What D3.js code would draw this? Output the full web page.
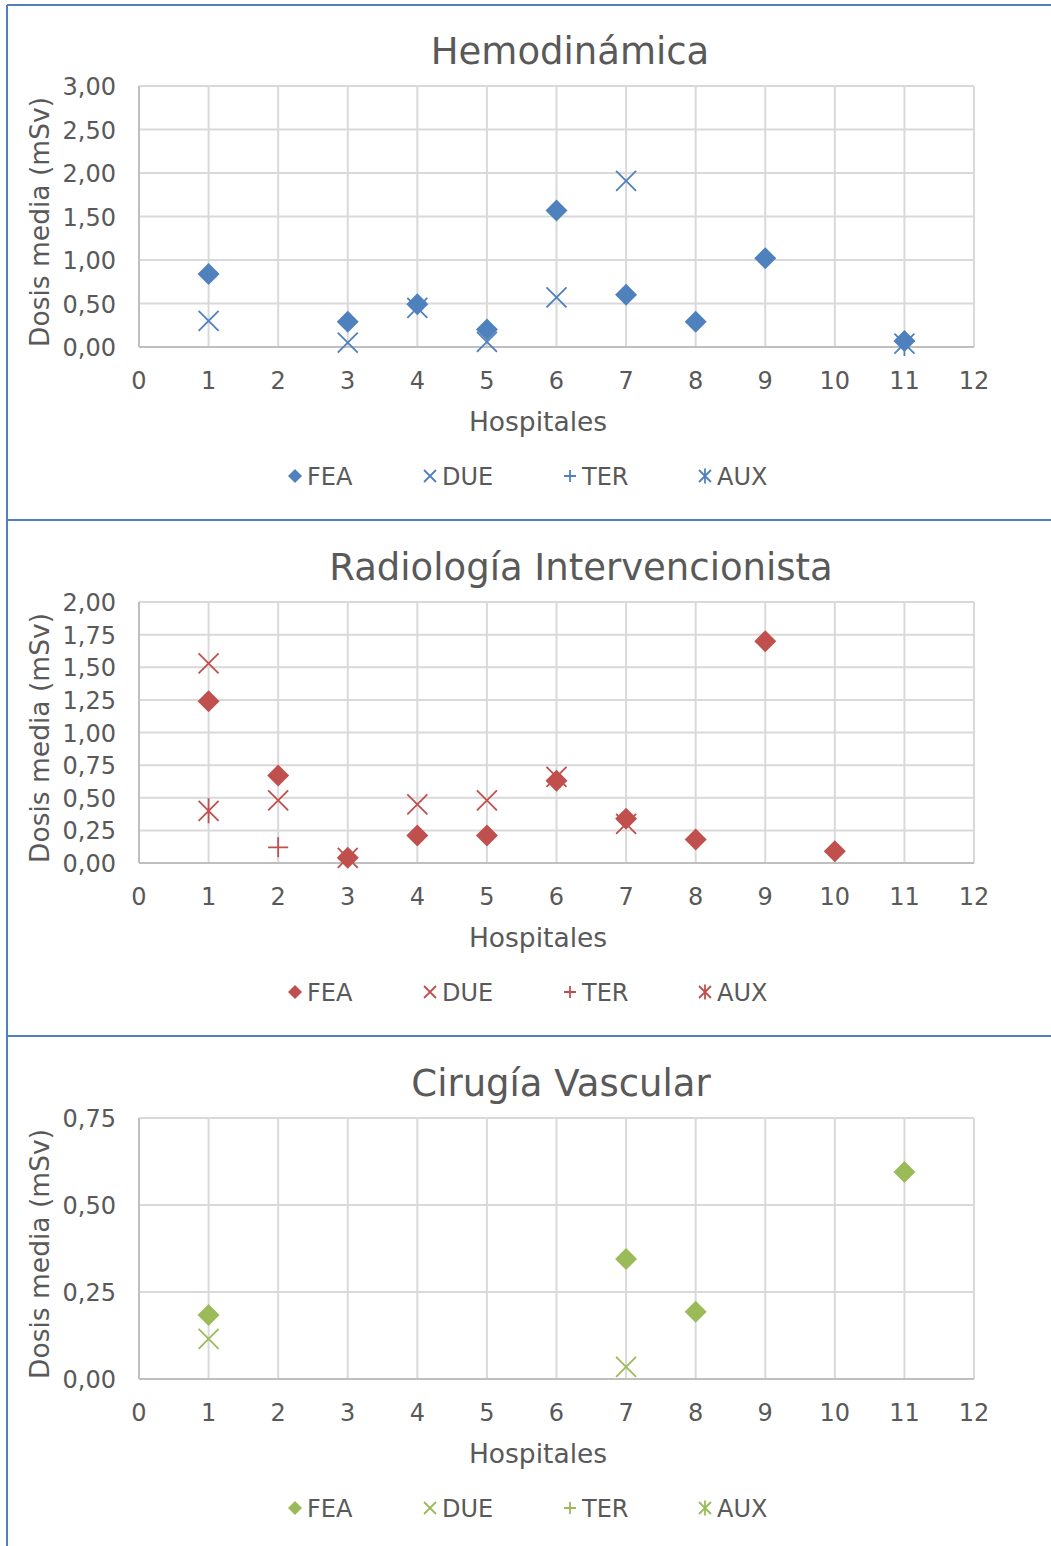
<!DOCTYPE html>
<meta charset="utf-8">
<style>
body { margin: 0; background: #fff; }
text { font-family: "DejaVu Sans", Verdana, sans-serif; fill: #595959; }
.grid line { stroke: #d9d9d9; stroke-width: 2px; }
</style>
<body>
<script src="https://d3js.org/d3.v7.min.js"></script>
<script>

// hospitals 1..12, null = no data
var hospitals = [1, 2, 3, 4, 5, 6, 7, 8, 9, 10, 11, 12];
var seriesNames = ["FEA", "DUE", "TER", "AUX"];

var hemoFEA = [0.84, null, 0.29, 0.49, 0.20, 1.57, 0.60, 0.29, 1.02, null, 0.07, null];
var hemoDUE = [0.30, null, 0.05, 0.45, 0.06, 0.57, 1.91, null, null, null, null, null];
var hemoTER = [null, null, null, null, null, null, null, null, null, null, null, null];
var hemoAUX = [null, null, null, null, null, null, null, null, null, null, 0.04, null];

var radFEA = [1.24, 0.67, 0.04, 0.21, 0.21, 0.63, 0.34, 0.18, 1.70, 0.09, null, null];
var radDUE = [1.53, 0.48, 0.04, 0.45, 0.48, 0.66, 0.30, null, null, null, null, null];
var radTER = [null, 0.12, null, null, null, null, null, null, null, null, null, null];
var radAUX = [0.40, null, null, null, null, null, null, null, null, null, null, null];

var vascFEA = [0.184, null, null, null, null, null, 0.345, 0.193, null, null, 0.595, null];
var vascDUE = [0.115, null, null, null, null, null, 0.035, null, null, null, null, null];
var vascTER = [null, null, null, null, null, null, null, null, null, null, null, null];
var vascAUX = [null, null, null, null, null, null, null, null, null, null, null, null];

var hemoTicks = [0, 0.5, 1, 1.5, 2, 2.5, 3];
var radTicks = [0, 0.25, 0.5, 0.75, 1, 1.25, 1.5, 1.75, 2];
var vascTicks = [0, 0.25, 0.5, 0.75];

var panels = [
  {title: "Hemodinámica", titleX: 570, color: "#4f81bd", ticks: hemoTicks, max: 3,
   series: [hemoFEA, hemoDUE, hemoTER, hemoAUX]},
  {title: "Radiología Intervencionista", titleX: 581, color: "#c0504d", ticks: radTicks, max: 2,
   series: [radFEA, radDUE, radTER, radAUX]},
  {title: "Cirugía Vascular", titleX: 561, color: "#9bbb59", ticks: vascTicks, max: 0.75,
   series: [vascFEA, vascDUE, vascTER, vascAUX]}
];

var W = 1051, H = 1546, panelH = 516;
var svg = d3.select("body").append("svg")
    .attr("width", W)
    .attr("height", H);

var fmt = function(v) { return d3.format(".2f")(v).replace(".", ","); };

// marker shapes, path centred on 0,0
function marker(kind, s) {
  if (kind == 0) return "M0," + (-s) + "L" + s + ",0L0," + s + "L" + (-s) + ",0Z";
  if (kind == 1) return "M" + (-s) + "," + (-s) + "L" + s + "," + s + "M" + (-s) + "," + s + "L" + s + "," + (-s);
  if (kind == 2) return "M" + (-s) + ",0L" + s + ",0M0," + (-s) + "L0," + s;
  return "M" + (-s) + "," + (-s) + "L" + s + "," + s + "M" + (-s) + "," + s + "L" + s + "," + (-s) +
         "M0," + (-s * 1.25) + "L0," + (s * 1.25);
}

var left = 139, right = 974, top0 = 86, bottom0 = 347;

panels.forEach(function(p, i) {
  var g = svg.append("g").attr("transform", "translate(0," + (i * panelH) + ")");

  var x = d3.scaleLinear().domain([0, 12]).range([left, right]);
  var y = d3.scaleLinear().domain([0, p.max]).range([bottom0, top0]);

  // gridlines
  var grid = g.append("g").attr("class", "grid");
  grid.selectAll(".gx").data(d3.range(1, 13))
    .enter().append("line")
      .attr("x1", function(d) { return x(d); })
      .attr("x2", function(d) { return x(d); })
      .attr("y1", y(0)).attr("y2", y(p.max));
  grid.selectAll(".gy").data(p.ticks.slice(1))
    .enter().append("line")
      .attr("x1", x(0)).attr("x2", x(12))
      .attr("y1", function(d) { return y(d); })
      .attr("y2", function(d) { return y(d); });

  // axis lines
  g.append("line").attr("x1", x(0)).attr("x2", x(0)).attr("y1", y(0)).attr("y2", y(p.max))
    .style("stroke", "#bfbfbf").style("stroke-width", 2);
  g.append("line").attr("x1", x(0)).attr("x2", x(12)).attr("y1", y(0)).attr("y2", y(0))
    .style("stroke", "#bfbfbf").style("stroke-width", 2);

  // tick labels
  g.selectAll(".yl").data(p.ticks)
    .enter().append("text")
      .attr("x", 116)
      .attr("y", function(d) { return y(d) + 9; })
      .attr("text-anchor", "end")
      .style("font-size", "24px")
      .text(fmt);
  g.selectAll(".xl").data(d3.range(0, 13))
    .enter().append("text")
      .attr("x", function(d) { return x(d); })
      .attr("y", 389)
      .attr("text-anchor", "middle")
      .style("font-size", "24px")
      .text(function(d) { return d; });

  // titles
  g.append("text")
    .attr("x", p.titleX).attr("y", 64)
    .attr("text-anchor", "middle")
    .style("font-size", "37px")
    .text(p.title);
  g.append("text")
    .attr("x", 538).attr("y", 431)
    .attr("text-anchor", "middle")
    .style("font-size", "26.5px")
    .text("Hospitales");
  g.append("text")
    .attr("transform", "translate(49,222) rotate(-90)")
    .attr("text-anchor", "middle")
    .style("font-size", "26.5px")
    .text("Dosis media (mSv)");

  // points
  p.series.forEach(function(vals, k) {
    var pts = hospitals.map(function(h, j) { return {h: h, v: vals[j]}; })
      .filter(function(d) { return d.v != null; });
    g.selectAll(".s" + k).data(pts)
      .enter().append("path")
        .attr("transform", function(d) { return "translate(" + x(d.h) + "," + y(d.v) + ")"; })
        .attr("d", marker(k, k == 0 ? 11 : 10))
        .style("fill", k == 0 ? p.color : "none")
        .style("stroke", p.color)
        .style("stroke-width", k == 0 ? 0 : 1.8);
  });

  // legend
  var legX = [295, 430, 570, 705];
  seriesNames.forEach(function(name, k) {
    g.append("path")
      .attr("transform", "translate(" + legX[k] + ",476)")
      .attr("d", marker(k, k == 0 ? 7 : 6))
      .style("fill", k == 0 ? p.color : "none")
      .style("stroke", p.color)
      .style("stroke-width", k == 0 ? 0 : 1.8);
    g.append("text")
      .attr("x", legX[k] + 12).attr("y", 485)
      .style("font-size", "24px")
      .text(name);
  });
});

// frame lines
var frame = svg.append("g").style("stroke", "#4f81bd").style("stroke-width", 2);
frame.append("line").attr("x1", 7).attr("x2", 7).attr("y1", 5).attr("y2", H);
[5, 520, 1036].forEach(function(yy) {
  frame.append("line").attr("x1", 7).attr("x2", W).attr("y1", yy).attr("y2", yy);
});

</script>
</body>
